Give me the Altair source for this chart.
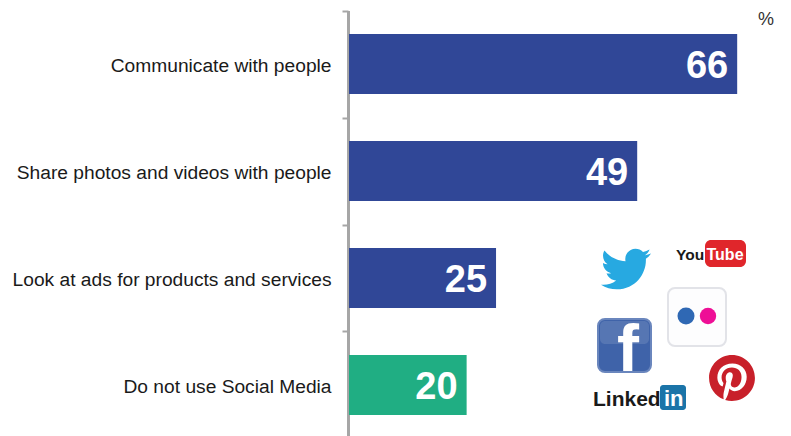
import altair as alt
import pandas as pd

categories = ["Communicate with people", "Share photos and videos with people",
              "Look at ads for products and services", "Do not use Social Media"]
values = [66, 49, 25, 20]
groups = ["use", "use", "use", "none"]

TWITTER = ("M23.953 4.57a10 10 0 0 1-2.825.775 4.958 4.958 0 0 0 2.163-2.723c-.951.555-2.005.959-3.127 1.184"
           "a4.92 4.92 0 0 0-8.384 4.482C7.69 8.095 4.067 6.13 1.64 3.162a4.822 4.822 0 0 0-.666 2.475"
           "c0 1.71.87 3.213 2.188 4.096a4.904 4.904 0 0 1-2.228-.616v.06a4.923 4.923 0 0 0 3.946 4.827"
           "a4.996 4.996 0 0 1-2.212.085a4.936 4.936 0 0 0 4.604 3.417a9.867 9.867 0 0 1-6.102 2.105"
           "c-.39 0-.779-.023-1.17-.067a13.995 13.995 0 0 0 7.557 2.209c9.053 0 13.998-7.496 13.998-13.985"
           "c0-.21 0-.42-.015-.63A9.935 9.935 0 0 0 24 4.59z")
PINTEREST = ("M12.017 0C5.396 0 .029 5.367.029 11.987c0 5.079 3.158 9.417 7.618 11.162-.105-.949-.199-2.403.041-3.439"
             ".219-.937 1.406-5.957 1.406-5.957s-.359-.72-.359-1.781c0-1.663.967-2.911 2.168-2.911 1.024 0 1.518.769 1.518 1.688"
             " 0 1.029-.653 2.567-.992 3.992-.285 1.193.6 2.165 1.775 2.165 2.128 0 3.768-2.245 3.768-5.487"
             " 0-2.861-2.063-4.869-5.008-4.869-3.41 0-5.409 2.562-5.409 5.199 0 1.033.394 2.143.889 2.741"
             ".099.12.112.225.085.345-.09.375-.293 1.199-.334 1.363-.053.225-.172.271-.401.165-1.495-.69-2.433-2.878-2.433-4.646"
             " 0-3.776 2.748-7.252 7.92-7.252 4.158 0 7.392 2.967 7.392 6.923 0 4.135-2.607 7.462-6.233 7.462"
             "-1.214 0-2.354-.629-2.758-1.379l-.749 2.848c-.269 1.045-1.004 2.352-1.498 3.146 1.123.345 2.306.535 3.55.535"
             " 6.607 0 11.985-5.365 11.985-11.987C23.97 5.39 18.592.026 11.985.026L12.017 0z")

OX, OY = 348, 10  # plot origin on the page
FONT = "Liberation Sans"

df = pd.DataFrame({"label": categories, "value": values, "group": groups})
one = pd.DataFrame({"a": [0]})

y = alt.Y("label:N", sort=categories, title=None,
          scale=alt.Scale(domain=categories, range=[0.5, 428.5], paddingInner=0.44, paddingOuter=0.22),
          axis=alt.Axis(tickOffset=-53.5, tickSize=6, tickWidth=2, tickColor="#a6a6a6",
                        domainColor="#a6a6a6", domainWidth=3, grid=False, labelFont=FONT,
                        labelFontSize=19.2, labelColor="#1a1a1a", labelPadding=11, labelLimit=400,
                        labelOffset=55))
x = alt.X("value:Q", title=None, axis=None, scale=alt.Scale(domain=[0, 72.6], range=[1, 428], nice=False))

bars = alt.Chart(df).mark_bar().encode(
    x=x, y=y,
    color=alt.Color("group:N", legend=None,
                    scale=alt.Scale(domain=["use", "none"], range=["#304797", "#20ae83"])))
nums = alt.Chart(df).mark_text(align="right", baseline="middle", dx=-9, dy=3, font=FONT,
                               fontWeight="bold", fontSize=38, color="white").encode(
    x=x, y=y, text="value:Q")


def rect(x0, y0, x1, y1, **kw):
    return alt.Chart(one).mark_rect(**kw).encode(
        x=alt.value(x0 - OX), x2=alt.value(x1 - OX), y=alt.value(y0 - OY), y2=alt.value(y1 - OY))


def txt(s, px, py, **kw):
    base = dict(font=FONT, baseline="alphabetic", align="left")
    base.update(kw)
    return alt.Chart(pd.DataFrame({"t": [s]})).mark_text(**base).encode(
        x=alt.value(px - OX), y=alt.value(py - OY), text="t:N")


def sym(shape, px, py, size, **kw):
    return alt.Chart(one).mark_point(shape=shape, size=size, filled=True, opacity=1, **kw).encode(
        x=alt.value(px - OX), y=alt.value(py - OY))


layers = [
    bars, nums,
    txt("%", 758, 25, fontSize=18, color="#333333"),
    # Twitter
    sym(TWITTER, 601, 244, (2 * 50 / 24) ** 2, color="#27a9e1"),
    # YouTube
    txt("You", 676, 260, fontSize=15.5, fontWeight="bold", color="#1a1a1a"),
    rect(705, 240, 746, 267, color="#e0262b", cornerRadius=6),
    txt("Tube", 706.5, 260, fontSize=16, fontWeight="bold", color="white"),
    # Flickr
    rect(668, 288, 726, 346, color="#fdfdfe", stroke="#e2e3e8", strokeWidth=2, cornerRadius=7),
    sym("circle", 686, 316, 290, color="#2f68b4"),
    sym("circle", 708, 316, 270, color="#ee0f96"),
    # Facebook
    rect(598, 319, 651, 372, color="#3f63a9", stroke="#6a86bd", strokeWidth=2, cornerRadius=7),
    rect(600, 321, 649, 344, color="#ffffff", opacity=0.12, cornerRadius=5),
    txt("f", 617, 371, fontSize=66, fontWeight="bold", color="white"),
    # Pinterest
    sym(PINTEREST, 709, 355, (2 * 46 / 24) ** 2, color="#c8202a"),
    # LinkedIn
    txt("Linked", 593, 406, fontSize=21, fontWeight="bold", color="#1a1a1a"),
    rect(660, 385, 686, 410, color="#1b74a8", cornerRadius=3),
    txt("in", 664, 406, fontSize=22, fontWeight="bold", color="white"),
]

chart = alt.layer(*layers).resolve_scale(color="independent").properties(
    width=435, height=426, background="white",
    autosize=alt.AutoSizeParams(type="none"),
    padding={"left": OX - 8, "top": OY - 8, "right": 0, "bottom": 0},
).configure_view(stroke=None)

chart.save("out.html", embed_options={"renderer": "svg", "actions": False})
